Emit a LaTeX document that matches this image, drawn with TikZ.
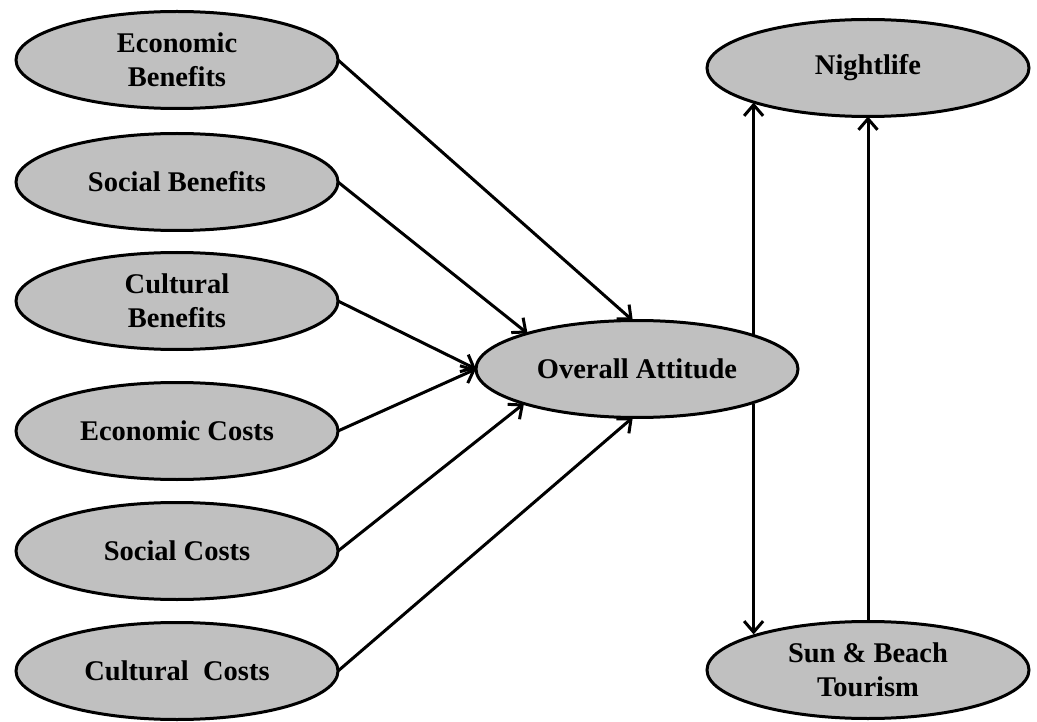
\documentclass[tikz,border=0pt]{standalone}
\usepackage{fontspec}
\setmainfont{Liberation Serif}
\usetikzlibrary{shapes.geometric,arrows.meta}
\definecolor{boxgray}{RGB}{192,192,192}
\begin{document}
\begin{tikzpicture}[x=1pt,y=-1pt,
  var/.style={ellipse,draw=black,line width=3pt,fill=boxgray,
    minimum width=322pt,minimum height=97pt,inner sep=0pt,outer sep=0pt,
    align=center,font=\fontsize{28.5}{34}\selectfont\bfseries},
  arr/.style={line width=3pt,-{Straight Barb[length=11pt,width=19pt]}}]
\useasboundingbox (0,0) rectangle (1037,722);
\node[var] (EB) at (177,60) {Economic\\Benefits};
\node[var] (SB) at (177,182) {Social Benefits};
\node[var] (CB) at (177,301) {Cultural\\Benefits};
\node[var] (EC) at (177,431) {Economic Costs};
\node[var] (SC) at (177,551) {Social Costs};
\node[var] (CC) at (177,671) {Cultural\hspace{0.25em} Costs};
\node[var] (OA) at (637,369) {Overall Attitude};
\node[var] (NL) at (868,68) {Nightlife};
\node[var] (ST) at (868,670) {Sun \& Beach\\Tourism};

\draw[arr] (EB.east) -- (OA.95);
\draw[arr] (SB.east) -- (OA.162.6);
\draw[arr] (CB.east) -- (OA.west);
\draw[arr] (EC.east) -- (OA.west);
\draw[arr] (SC.east) -- (OA.197.4);
\draw[arr] (CC.east) -- (OA.265);

\coordinate (up) at (OA.16.2);
\draw[arr] (up) -- (up |- NL.197.6);
\draw[arr] (up |- OA.343.8) -- (up |- ST.162.4);
\draw[arr] (ST.north) -- (NL.south);
\end{tikzpicture}
\end{document}
